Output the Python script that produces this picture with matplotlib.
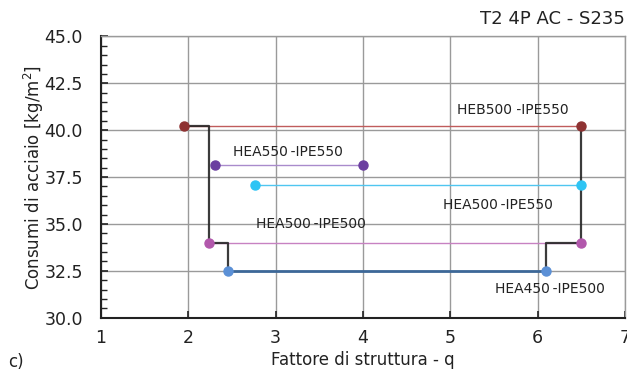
import matplotlib.pyplot as plt
from matplotlib.ticker import MultipleLocator

# sections: (label, q at minimum, q at maximum, steel weight kg/m2)
sections = ['HEB500 -IPE550', 'HEA550\u2009-IPE550', 'HEA500\u2009-IPE550',
            'HEA500\u2009-IPE500', 'HEA450\u2009-IPE500']
q_min = [1.95, 2.30, 2.76, 2.24, 2.45]
q_max = [6.50, 4.00, 6.50, 6.50, 6.10]
weight = [40.2, 38.15, 37.1, 34.0, 32.5]

marker_colors = ['#8e3232', '#6b3fa0', '#2ec4f4', '#b258ac', '#5b90d6']
line_colors = ['#c05c5c', '#a98bcc', '#4fc6f0', '#c782c2', '#3d6898']
line_widths = [1.0, 1.0, 1.0, 1.0, 2.0]

# where the section names sit
label_q = [5.07, 2.51, 4.91, 2.77, 5.51]
label_w = [41.1, 38.85, 36.0, 35.0, 31.55]

# lower envelope (lightest section as q grows), left and right branches
env_left_q = [1.95, 2.24, 2.24, 2.45, 2.45]
env_left_w = [40.2, 40.2, 34.0, 34.0, 32.5]
env_right_q = [6.10, 6.10, 6.50, 6.50]
env_right_w = [32.5, 34.0, 34.0, 40.2]

fig = plt.figure(figsize=(6.27, 3.76), dpi=100)
ax = fig.add_axes([0.161, 0.155, 0.836, 0.748])

for i in range(len(sections)):
    ax.plot([q_min[i], q_max[i]], [weight[i], weight[i]], color=line_colors[i],
            lw=line_widths[i], zorder=3, solid_capstyle='butt')

ax.plot(env_left_q, env_left_w, color='#262626', lw=1.6, zorder=4, alpha=0.9)
ax.plot(env_right_q, env_right_w, color='#262626', lw=1.6, zorder=4, alpha=0.9)

for i in range(len(sections)):
    ax.plot([q_min[i], q_max[i]], [weight[i], weight[i]], 'o', color=marker_colors[i],
            ms=6.5, zorder=5, clip_on=False)
    ax.text(label_q[i], label_w[i], sections[i], fontsize=10, color='#222222',
            ha='left', va='center', zorder=6)

ax.set_xlim(1, 7)
ax.set_ylim(30, 45)
ax.xaxis.set_major_locator(MultipleLocator(1))
ax.yaxis.set_major_locator(MultipleLocator(2.5))
ax.yaxis.set_minor_locator(MultipleLocator(0.5))
ax.yaxis.set_major_formatter(plt.FormatStrFormatter('%.1f'))

ax.grid(True, which='major', color='#9a9a9a', lw=1.0)
ax.set_axisbelow(True)
ax.tick_params(axis='both', which='major', direction='in', length=5, width=1.2,
               labelsize=12.5, color='#222222', labelcolor='#222222')
ax.tick_params(axis='y', which='minor', direction='in', length=4, width=1.0,
               color='#222222')
ax.tick_params(axis='x', pad=8)
ax.tick_params(axis='y', which='major', pad=13)

for side in ['left', 'bottom']:
    ax.spines[side].set_color('#222222')
    ax.spines[side].set_linewidth(1.5)
for side in ['top', 'right']:
    ax.spines[side].set_color('#9a9a9a')
    ax.spines[side].set_linewidth(1.0)

ax.set_xlabel('Fattore di struttura - q', fontsize=12, color='#222222', labelpad=3)
ax.set_ylabel('Consumi di acciaio [kg/m$^2$]', fontsize=12, color='#222222', labelpad=-1)
ax.set_title('T2 4P AC - S235', loc='right', fontsize=13, color='#222222', pad=9)
fig.text(0.013, 0.025, 'c)', fontsize=12, color='#222222')

fig.savefig('out.png', dpi=100)
